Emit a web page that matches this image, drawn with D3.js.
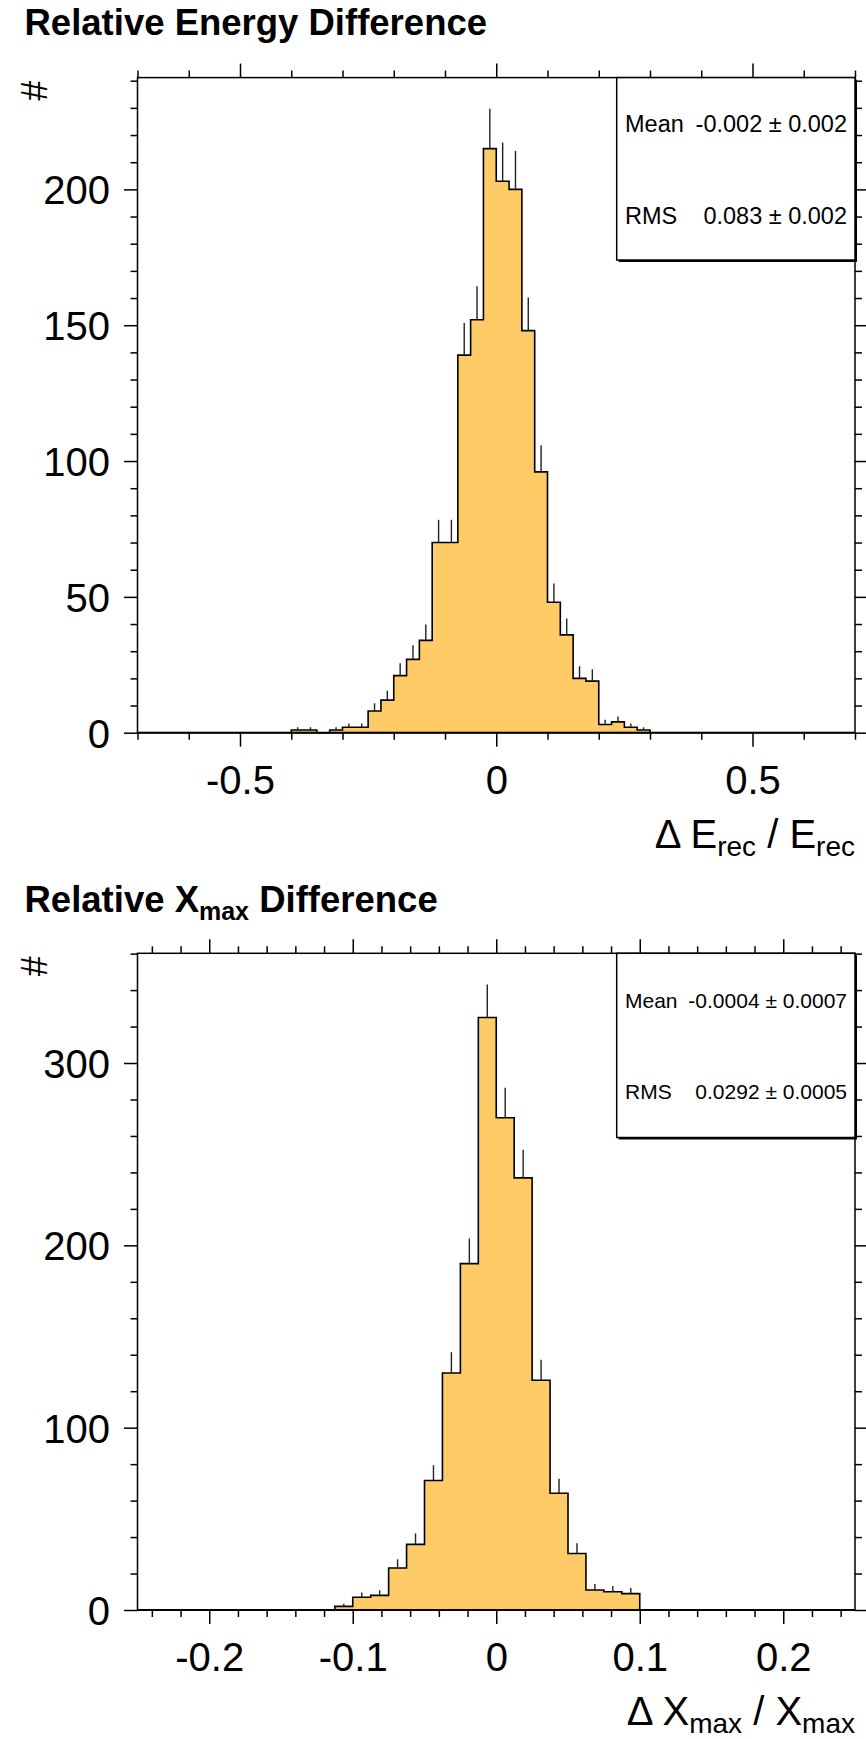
<!DOCTYPE html>
<html>
<head>
<meta charset="utf-8">
<script src="https://cdn.jsdelivr.net/npm/d3@7/dist/d3.min.js"></script>
<style>
  body { margin: 0; background: #fff; }
  svg text { font-family: "Liberation Sans", Arial, Helvetica, sans-serif; fill: #000; }
</style>
</head>
<body>
<div id="chart"></div>
<script>
// relative energy difference: bins of 0.025 starting at -0.4
const energyStart = -0.4;
const energyWidth = 0.025;
const energyCounts = [1, 1, 0, 1, 2, 2, 8, 12, 21, 27, 34, 70, 70, 139, 152, 215, 203, 200, 148, 96, 48, 36, 20, 19, 3, 4, 2, 1];
const energyXTicks = [-0.5, 0, 0.5];
const energyYTicks = [0, 50, 100, 150, 200];
const energyStats = [['Mean', '-0.002 \u00b1 0.002'], ['RMS', '0.083 \u00b1 0.002']];

// relative Xmax difference: bins of 0.0125 starting at -0.1125
const xmaxStart = -0.1125;
const xmaxWidth = 0.0125;
const xmaxCounts = [2, 7, 8, 23, 36, 71, 130, 190, 325, 270, 237, 126, 64, 31, 11, 10, 9];
const xmaxXTicks = [-0.2, -0.1, 0, 0.1, 0.2];
const xmaxYTicks = [0, 100, 200, 300];
const xmaxStats = [['Mean', '-0.0004 \u00b1 0.0007'], ['RMS', '0.0292 \u00b1 0.0005']];

const W = 866, H = 1739;
const FRAME_L = 137.5, FRAME_R = 855;
const FILL = '#fecb66';

const svg = d3.select('#chart').append('svg')
    .attr('width', W)
    .attr('height', H);

// 按步长生成刻度（避免浮点误差）
function steps(lo, hi, step) {
    const a = Math.ceil(lo / step - 1e-6), b = Math.floor(hi / step + 1e-6);
    return d3.range(a, b + 1).map(k => +(k * step).toFixed(6));
}

// 带下标的文字
function richText(sel, parts, size, subSize, subShift) {
    parts.forEach(p => {
        if (p.sub) {
            sel.append('tspan').attr('font-size', subSize).attr('dy', subShift).text(p.t);
        } else {
            sel.append('tspan').attr('font-size', size).attr('dy', p.back ? -subShift : 0).text(p.t);
        }
    });
}

function drawPanel(o) {
    const g = svg.append('g');
    const x = d3.scaleLinear().domain(o.xDomain).range([FRAME_L, FRAME_R]);
    const peak = d3.max(o.counts);
    const yMax = 1.05 * (peak + Math.sqrt(peak));
    const y = d3.scaleLinear().domain([0, yMax]).range([o.bottom, o.top]);

    // 直方图
    const pts = [[o.start, 0]];
    o.counts.forEach((c, i) => {
        const x0 = o.start + i * o.width;
        pts.push([x0, c], [x0 + o.width, c]);
    });
    pts.push([o.start + o.counts.length * o.width, 0]);
    const line = d3.line().x(d => x(d[0])).y(d => y(d[1]));
    g.append('path')
        .attr('d', line(pts))
        .attr('fill', FILL)
        .attr('stroke', '#000')
        .attr('stroke-width', 1.6);

    // 误差棒（只看得到上半部分）
    const errs = o.counts.map((c, i) => ({c: c, xc: o.start + (i + 0.5) * o.width})).filter(d => d.c > 0);
    g.selectAll('.err').data(errs).enter().append('line')
        .attr('class', 'err')
        .attr('x1', d => x(d.xc)).attr('x2', d => x(d.xc))
        .attr('y1', d => y(d.c)).attr('y2', d => y(d.c + Math.sqrt(d.c)))
        .attr('stroke', '#222')
        .attr('stroke-width', 1.4);

    // 轴
    function axis(gen, tr, vals, size, labels) {
        const a = g.append('g').attr('transform', tr)
            .call(gen.tickValues(vals).tickSizeInner(size).tickSizeOuter(0)
                .tickFormat(labels ? (d => String(d)) : () => ''));
        a.select('.domain').remove();
        a.selectAll('line').attr('stroke', '#000').attr('stroke-width', 1.5);
        a.attr('font-family', null).attr('font-size', 40);
        return a;
    }
    const xMinor = steps(o.xDomain[0], o.xDomain[1], o.xMinor).filter(v => o.xTicks.indexOf(v) < 0);
    const yMinor = steps(0, yMax, o.yMinor).filter(v => o.yTicks.indexOf(v) < 0);

    const bx = axis(d3.axisBottom(x), `translate(0,${o.bottom})`, o.xTicks, 14, true);
    bx.selectAll('text').attr('y', 61).attr('dy', null);
    axis(d3.axisBottom(x), `translate(0,${o.bottom})`, xMinor, 7, false);
    axis(d3.axisTop(x), `translate(0,${o.top})`, o.xTicks, 14, false);
    axis(d3.axisTop(x), `translate(0,${o.top})`, xMinor, 7, false);

    const ly = axis(d3.axisLeft(y), `translate(${FRAME_L},0)`, o.yTicks, 13.5, true);
    ly.selectAll('text').attr('x', -27.5).attr('dy', '0.36em');
    axis(d3.axisLeft(y), `translate(${FRAME_L},0)`, yMinor, 7, false);
    axis(d3.axisRight(y), `translate(${FRAME_R},0)`, o.yTicks, 13.5, false);
    axis(d3.axisRight(y), `translate(${FRAME_R},0)`, yMinor, 7, false);

    // 边框
    g.append('rect')
        .attr('x', FRAME_L).attr('y', o.top)
        .attr('width', FRAME_R - FRAME_L).attr('height', o.bottom - o.top)
        .attr('fill', 'none').attr('stroke', '#000').attr('stroke-width', 1.5);
    g.append('line')
        .attr('x1', FRAME_L).attr('x2', FRAME_R)
        .attr('y1', o.bottom).attr('y2', o.bottom)
        .attr('stroke', '#000').attr('stroke-width', 2);

    // 统计框
    const bx0 = 616.7;
    g.append('rect')
        .attr('x', bx0 + 2).attr('y', o.top + 2)
        .attr('width', FRAME_R - bx0).attr('height', o.statsBottom - o.top)
        .attr('fill', '#000');
    g.append('rect')
        .attr('x', bx0).attr('y', o.top)
        .attr('width', FRAME_R - bx0).attr('height', o.statsBottom - o.top)
        .attr('fill', '#fff').attr('stroke', '#000').attr('stroke-width', 1.5);
    o.stats.forEach((s, i) => {
        g.append('text')
            .attr('x', 625).attr('y', o.statsY[i])
            .attr('font-size', o.statsSize)
            .text(s[0]);
        g.append('text')
            .attr('x', 847).attr('y', o.statsY[i])
            .attr('text-anchor', 'end')
            .attr('font-size', o.statsSize)
            .text(s[1]);
    });

    // 标题
    const t = g.append('text')
        .attr('x', 24.5).attr('y', o.titleY)
        .attr('font-weight', 'bold');
    richText(t, o.title, 36.5, 25, 8);

    // y轴标题
    g.append('text')
        .attr('transform', `translate(47,${o.top + 3}) rotate(-90)`)
        .attr('text-anchor', 'end')
        .attr('font-size', 36)
        .text('#');

    // x轴标题
    const xl = g.append('text')
        .attr('x', FRAME_R).attr('y', o.xLabelY)
        .attr('text-anchor', 'end');
    richText(xl, o.xLabel, 40, 28, 8);
}

drawPanel({
    counts: energyCounts, start: energyStart, width: energyWidth,
    xDomain: [-0.7, 0.7], xTicks: energyXTicks, xMinor: 0.1,
    yTicks: energyYTicks, yMinor: 10,
    top: 77.6, bottom: 732.7,
    stats: energyStats, statsBottom: 260, statsY: [131.7, 224], statsSize: 23.5,
    titleY: 35,
    title: [{t: 'Relative Energy Difference'}],
    xLabelY: 848,
    xLabel: [{t: '\u0394 E'}, {t: 'rec', sub: true}, {t: ' / E', back: true}, {t: 'rec', sub: true}]
});

drawPanel({
    counts: xmaxCounts, start: xmaxStart, width: xmaxWidth,
    xDomain: [-0.25, 0.25], xTicks: xmaxXTicks, xMinor: 0.02,
    yTicks: xmaxYTicks, yMinor: 20,
    top: 953.3, bottom: 1610,
    stats: xmaxStats, statsBottom: 1137.5, statsY: [1008.3, 1099.3], statsSize: 21,
    titleY: 911.7,
    title: [{t: 'Relative X'}, {t: 'max', sub: true}, {t: ' Difference', back: true}],
    xLabelY: 1725,
    xLabel: [{t: '\u0394 X'}, {t: 'max', sub: true}, {t: ' / X', back: true}, {t: 'max', sub: true}]
});
</script>
</body>
</html>
